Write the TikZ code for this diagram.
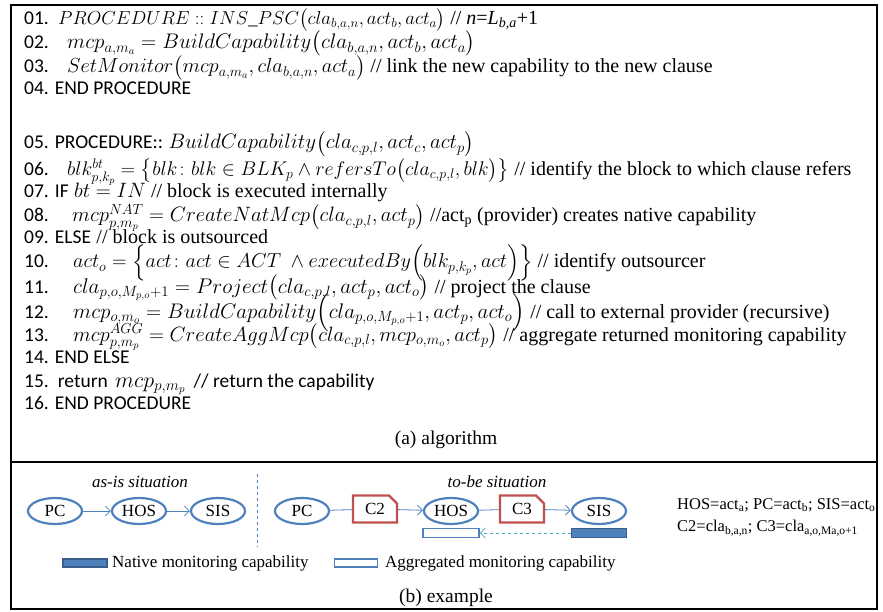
\RequirePackage{fix-cm}
\documentclass[tikz,border=0pt]{standalone}
\usepackage{amsmath,amssymb}
\usepackage{fontspec}
\setmainfont{Liberation Serif}
\newfontfamily\numfont{Carlito}
\usetikzlibrary{arrows.meta,shapes.geometric,shapes.misc}

\definecolor{actblue}{RGB}{79,129,189}
\definecolor{actbluedark}{RGB}{56,93,138}
\definecolor{clared}{RGB}{192,80,77}
\definecolor{retcyan}{RGB}{75,172,198}

% comments of the pseudo-code, in the serif text face
\newcommand{\cmtx}[1]{{\rmfamily\upshape\fontsize{20}{24}\selectfont #1}}
% keywords of the pseudo-code, in the sans face
\newcommand{\kwx}[1]{{\numfont\fontsize{19.5}{24}\selectfont #1}}

\tikzset{
  ln/.style={anchor=base west, inner sep=0pt, font=\numfont\fontsize{19.5}{24}\selectfont},
  code/.style={anchor=base west, inner sep=0pt, font=\rmfamily\fontsize{20.8}{24}\selectfont},
  msz/.style={font=\rmfamily\fontsize{#1}{24}\selectfont},
  caption/.style={inner sep=0pt, font=\rmfamily\fontsize{19.5}{24}\selectfont},
  actor/.style={ellipse, draw=actblue, line width=2.2pt, minimum width=54pt, minimum height=26pt,
    inner sep=0pt, font=\rmfamily\fontsize{17}{17}\selectfont},
  clause/.style={chamfered rectangle, chamfered rectangle corners=north east,
    chamfered rectangle xsep=4pt, chamfered rectangle ysep=4pt,
    draw=clared, line width=2.2pt, minimum width=44pt, minimum height=27pt,
    inner sep=0pt, font=\rmfamily\fontsize{17}{17}\selectfont},
  flow/.style={draw=actblue, line width=0.8pt},
  flowarrow/.style={flow, -{Straight Barb[length=5pt,width=10pt]}},
  nativecap/.style={draw=actbluedark, fill=actblue, line width=1.5pt},
  aggcap/.style={draw=actblue, fill=white, line width=1.5pt},
  situation/.style={inner sep=0pt, font=\rmfamily\itshape\fontsize{17}{17}\selectfont},
  legend/.style={anchor=west, inner sep=0pt, font=\rmfamily\fontsize{17}{17}\selectfont},
  mapping/.style={anchor=west, inner sep=0pt, font=\rmfamily\fontsize{16.5}{17}\selectfont}
}

\begin{document}
\begin{tikzpicture}[x=1pt, y=-1pt]
\useasboundingbox (0,0) rectangle (883,612);

% frame and separation between the two parts
\draw[line width=2pt] (11,5) rectangle (877,609);
\draw[line width=2pt] (11,462) -- (877,462);

% ---------------- (a) algorithm ----------------
\node[ln] (n01) at (24,25) {01.};
\node[code, msz=18.8] (c01) at (58,25) {$PROCEDURE \;{::}\; INS\_PSC\big(cla_{b,a,n}, act_b, act_a\big)$ \cmtx{// \textit{n}=\textit{L}\textsubscript{\textit{b,a}}+1}};
\node[ln] (n02) at (24,49) {02.};
\node[code, msz=21.1] (c02) at (67,49) {$mcp_{a,m_a} = BuildCapability\big(cla_{b,a,n}, act_b, act_a\big)$};
\node[ln] (n03) at (24,73) {03.};
\node[code, msz=20.4] (c03) at (67,73) {$SetMonitor\big(mcp_{a,m_a}, cla_{b,a,n}, act_a\big)$ \cmtx{// link the new capability to the new clause}};
\node[ln] (n04) at (24,95) {04. END PROCEDURE};

\node[ln] (n05) at (24,149) {05. PROCEDURE::};
\node[code, msz=20.9] (c05) at ([xshift=5pt]n05.base east) {$BuildCapability\big(cla_{c,p,l}, act_c, act_p\big)$};
\node[ln] (n06) at (24,176) {06.};
\node[code, msz=19.8] (c06) at (67,176) {$blk^{bt}_{p,k_p} = \big\{blk\colon blk \in BLK_p \wedge refersTo\big(cla_{c,p,l}, blk\big)\big\}$ \cmtx{// identify the block to which clause refers}};
\node[ln] (n07) at (24,198) {07.\hspace{6pt}IF};
\node[code] (c07) at ([xshift=5pt]n07.base east) {$bt = IN$ \cmtx{// block is executed internally}};
\node[ln] (n08) at (24,222) {08.};
\node[code, msz=20.8] (c08) at (72,222) {$mcp^{NAT}_{p,m_p} = CreateNatMcp\big(cla_{c,p,l}, act_p\big)$ \cmtx{//act\textsubscript{p} (provider) creates native capability}};
\node[ln] (n09) at (24,244) {09.\hspace{6pt}ELSE};
\node[code] (c09) at ([xshift=5pt]n09.base east) {\cmtx{// block is outsourced}};
\node[ln] (n10) at (24,268) {10.};
\node[code, msz=20.2] (c10) at (73,268) {$act_o = \Big\{act\colon act \in ACT\ \wedge executedBy\Big(blk_{p,k_p}, act\Big)\Big\}$ \cmtx{// identify outsourcer}};
\node[ln] (n11) at (24,293) {11.};
\node[code, msz=21.2] (c11) at (73,293) {$cla_{p,o,M_{p,o}+1} = Project\big(cla_{c,p,l}, act_p, act_o\big)$ \cmtx{// project the clause}};
\node[ln] (n12) at (24,318) {12.};
\node[code, msz=21.1] (c12) at (73,318) {$mcp_{o,m_o} = BuildCapability\Big(cla_{p,o,M_{p,o}+1}, act_p, act_o\Big)$ \cmtx{// call to external provider (recursive)}};
\node[ln] (n13) at (24,341) {13.};
\node[code, msz=20.7] (c13) at (73,341) {$mcp^{AGG}_{p,m_p} = CreateAggMcp\big(cla_{c,p,l}, mcp_{o,m_o}, act_p\big)$ \cmtx{// aggregate returned monitoring capability}};
\node[ln] (n14) at (24,363) {14.\hspace{6pt}END ELSE};
\node[ln] (n15) at (24,387) {15.\hspace{9pt}return};
\node[code, msz=22] (c15) at ([xshift=7pt]n15.base east) {$mcp_{p,m_p}$\hspace{8pt}\kwx{// return the capability}};
\node[ln] (n16) at (24,409) {16. END PROCEDURE};

\node[caption] (capa) at (446,440) {(a) algorithm};

% ---------------- (b) example ----------------
\node[situation] (asis) at (140,482) {as-is situation};
\node[situation] (tobe) at (497,482) {to-be situation};

\coordinate (sepTop) at (257,474);
\coordinate (sepBot) at (257,547);
\draw[actblue, line width=0.8pt, dashed] (sepTop) -- (sepBot);

% as-is chain
\node[actor] (pc1)  at (55,511)  {PC};
\node[actor] (hos1) at (139,511) {HOS};
\node[actor] (sis1) at (218,511) {SIS};
\draw[flowarrow] (pc1) -- (hos1);
\draw[flowarrow] (hos1) -- (sis1);

% to-be chain
\node[actor]  (pc2)  at (302,511) {PC};
\node[clause] (c2)   at (375,509) {C2};
\node[actor]  (hos2) at (451,511) {HOS};
\node[clause] (c3)   at (522,509) {C3};
\node[actor]  (sis2) at (599,511) {SIS};
\draw[flow] (pc2) -- (c2);
\draw[flowarrow] (c2) -- (hos2);
\draw[flow] (hos2) -- (c3);
\draw[flowarrow] (c3) -- (sis2);

% monitoring capabilities
\node[aggcap, minimum width=56pt, minimum height=9pt, inner sep=0pt] (agg) at (451,533) {};
\node[nativecap, minimum width=55pt, minimum height=9pt, inner sep=0pt] (nat) at (599,533) {};
\draw[retcyan, line width=0.8pt, dashed, -{Straight Barb[length=5pt,width=10pt]}] (nat) -- (agg);

% legend
\node[nativecap, minimum width=44pt, minimum height=8pt, inner sep=0pt] (legnat) at (85,563) {};
\node[legend] (legnattxt) at (112,563) {Native monitoring capability};
\node[aggcap, minimum width=43pt, minimum height=8pt, inner sep=0pt] (legagg) at (356,563) {};
\node[legend] (legaggtxt) at (385,563) {Aggregated monitoring capability};

% actor and clause mapping
\node[mapping] (map1) at (677,505) {HOS=act\textsubscript{a}; PC=act\textsubscript{b}; SIS=act\textsubscript{o}};
\node[mapping] (map2) at (677,528) {C2=cla\textsubscript{b,a,n}; C3=cla\textsubscript{a,o,Ma,o+1}};

\node[caption] (capb) at (446,598) {(b) example};
\end{tikzpicture}
\end{document}
